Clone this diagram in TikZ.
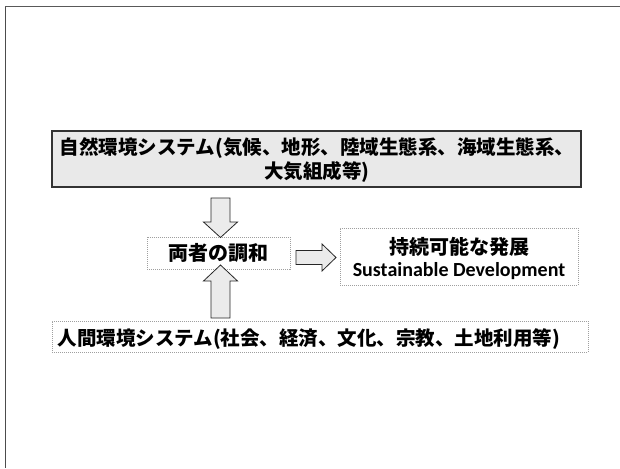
\documentclass[tikz,border=0pt]{standalone}
\usepackage{fontspec}
\newfontfamily\jp{Noto Sans CJK JP}
\newfontfamily\carl{Carlito}
\usetikzlibrary{fit}
\begin{document}
\begin{tikzpicture}[x=1pt,y=-1pt,
  solidbox/.style={draw=black!80, line width=1.4pt, fill=gray!17, inner sep=0pt},
  dotbox/.style={draw=gray!75, line width=0.8pt, dash pattern=on 1pt off 1pt, fill=white, inner sep=0pt},
  txt/.style={inner sep=0pt, font=\jp\bfseries\fontsize{19.5}{24}\selectfont, align=center},
  blockarrow/.style={draw=black!85, line width=0.8pt, fill=gray!16, line join=miter}]
\useasboundingbox (0,0) rectangle (620,468);
% page frame
\draw[gray!60!black, line width=1.8pt] (5.5,6.5) -- (5.5,468);
\draw[gray!70!black, line width=1.2pt] (5,6.5) -- (620,6.5);

% boxes
\coordinate (nA) at (52,131); \coordinate (nB) at (581,187);
\node[solidbox, fit=(nA)(nB)] (nature) {};
\node[txt] (naturetxt) at (317,160) {自然環境システム(気候、地形、陸域生態系、海域生態系、\\大気組成等)};

\coordinate (hA) at (147,237); \coordinate (hB) at (290,269);
\node[dotbox, fit=(hA)(hB)] (harmony) {};
\node[txt, font=\jp\bfseries\fontsize{20}{24}\selectfont] (harmonytxt) at (218.5,253) {両者の調和};

\coordinate (sA) at (340,228); \coordinate (sB) at (578,285);
\node[dotbox, fit=(sA)(sB)] (sust) {};
\node[txt, font=\jp\bfseries\fontsize{20}{22}\selectfont] (susttxt) at (459,258) {持続可能な発展\\{\carl\bfseries Sustainable Development}};

\coordinate (mA) at (52,321); \coordinate (mB) at (588,352);
\node[dotbox, fit=(mA)(mB)] (human) {};
\node[txt, anchor=west] (humantxt) at (57.5,339.5) {人間環境システム(社会、経済、文化、宗教、土地利用等)};

% block arrows
\draw[blockarrow] (211,198) -- (230,198) -- (230,222) -- (237.5,222) -- (220.5,237.5) -- (203.5,222) -- (211,222) -- cycle;
\draw[blockarrow] (211,318) -- (230,318) -- (230,281) -- (237.5,281) -- (220.5,265) -- (203.5,281) -- (211,281) -- cycle;
\draw[blockarrow] (296,250.5) -- (322,250.5) -- (322,244) -- (336,257.5) -- (322,271) -- (322,264.5) -- (296,264.5) -- cycle;
\end{tikzpicture}
\end{document}
